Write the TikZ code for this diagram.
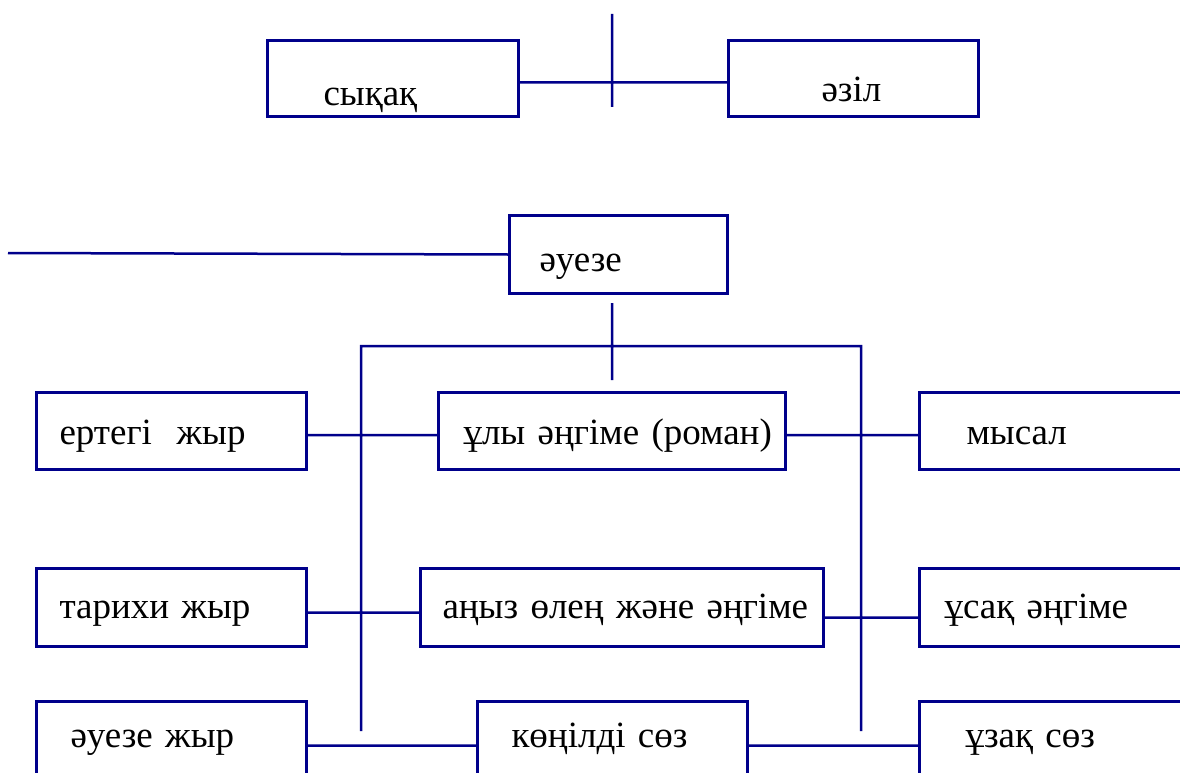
\documentclass[tikz,border=0pt]{standalone}
\usepackage{fontspec}
\setmainfont{Liberation Serif}
\definecolor{boxblue}{RGB}{0,0,139}

\begin{document}
\begin{tikzpicture}[x=1pt,y=-1pt,
   box/.style={draw=boxblue,line width=3pt,anchor=north west,align=left,inner ysep=0pt,
               font=\fontsize{37}{44}\selectfont},
   wire/.style={draw=boxblue,line width=2.5pt}]
   \useasboundingbox[fill=white] (0,0) rectangle (1180,773);

   \node [box,inner xsep=56pt,text width=139pt,text height=65pt,text depth=11pt] (syqaq) at (266,39) {сықақ};
   \node [box,inner xsep=93pt,text width=64pt,text height=61pt,text depth=15pt] (azil) at (727,39) {\mbox{әзіл}};
   \node [box,inner xsep=30pt,text width=158pt,text height=56pt,text depth=22pt] (aueze) at (508,214) {әуезе};

   \node [box,inner xsep=23pt,text width=224pt,text height=52pt,text depth=25pt] (ertegi) at (35,391) {ертегі\ \ жыр};
   \node [box,inner xsep=25pt,text width=297pt,text height=52pt,text depth=25pt] (uly) at (437,391) {\mbox{ұлы әңгіме (роман)}};
   \node [box,inner xsep=47pt,text width=186pt,text height=52pt,text depth=25pt] (mysal) at (918,391) {мысал};

   \node [box,inner xsep=23pt,text width=224pt,text height=50pt,text depth=28pt] (tarihi) at (35,567) {тарихи жыр};
   \node [box,inner xsep=22pt,text width=359pt,text height=50pt,text depth=28pt] (anyz) at (419,567) {\mbox{аңыз өлең және әңгіме}};
   \node [box,inner xsep=25pt,text width=230pt,text height=50pt,text depth=28pt] (usaq) at (918,567) {ұсақ әңгіме};

   \node [box,inner xsep=34pt,text width=202pt,text height=46pt,text depth=30pt] (auezezhyr) at (35,700) {әуезе жыр};
   \node [box,inner xsep=34pt,text width=202pt,text height=46pt,text depth=30pt] (konildi) at (476,700) {көңілді сөз};
   \node [box,inner xsep=46pt,text width=188pt,text height=46pt,text depth=30pt] (uzaq) at (918,700) {ұзақ сөз};

   \coordinate (top_a) at (612,14);
   \coordinate (top_b) at (612,107);
   \coordinate (lft) at (8,253);
   \coordinate (stem_a) at (612,303);
   \coordinate (stem_b) at (612,380);
   \coordinate (br_l) at (361,731);
   \coordinate (br_r) at (861,731);

   \path[wire]
    ([yshift=-4pt]syqaq.east) -- ([yshift=-4pt]azil.west)
    (top_a) -- (top_b)
    (aueze.west) -- (lft)
    (stem_a) -- (stem_b)
    (br_l) |- (612,346) -| (br_r)
    ([yshift=-4pt]ertegi.east) -- ([yshift=-4pt]uly.west)
    ([yshift=-4pt]uly.east) -- ([yshift=-4pt]mysal.west)
    ([yshift=-5pt]tarihi.east) -- ([yshift=-5pt]anyz.west)
    ([yshift=-10pt]anyz.east) -- ([yshift=-10pt]usaq.west)
    ([yshift=-6pt]auezezhyr.east) -- ([yshift=-6pt]konildi.west)
    ([yshift=-6pt]konildi.east) -- ([yshift=-6pt]uzaq.west);
\end{tikzpicture}
\end{document}
